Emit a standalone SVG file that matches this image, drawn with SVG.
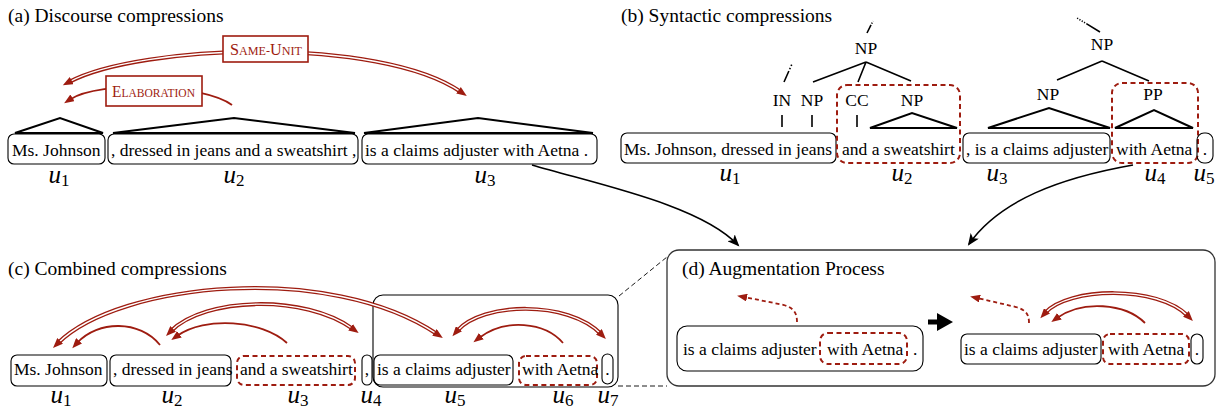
<svg xmlns="http://www.w3.org/2000/svg" width="1222" height="410" viewBox="0 0 1222 410">
<defs>
<style>
text{font-family:"Liberation Serif","Times New Roman",serif;fill:#000}
.t{font-size:17.5px}
.ttl{font-size:19.5px}
.u{font-size:25px;font-style:italic;text-anchor:middle}
.s{font-size:17px;font-style:normal}
.m{text-anchor:middle}
.box{fill:none;stroke:#000;stroke-width:1.1}
.rbox{fill:none;stroke:#9e1c10;stroke-width:2;stroke-dasharray:5 3.5}
.tree{fill:none;stroke:#000;stroke-width:2}
.ln{fill:none;stroke:#000;stroke-width:1.6}
.red1{fill:none;stroke:#9e1c10;stroke-width:1.8}
.rdash{fill:none;stroke:#9e1c10;stroke-width:1.8;stroke-dasharray:4 3}
.dblo{fill:none;stroke:#9e1c10;stroke-width:4}
.dbli{fill:none;stroke:#fff;stroke-width:1.4}
.mk{fill:none;stroke:none}
.lbl{fill:#fff;stroke:#9e1c10;stroke-width:1.6}
.rt{fill:#9e1c10}
.blk{fill:none;stroke:#000;stroke-width:1.6}
.frame{fill:none;stroke:#333;stroke-width:1.3}
.zoomln{fill:none;stroke:#000;stroke-width:0.9;stroke-dasharray:5 3}
</style>
<marker id="ra" markerUnits="userSpaceOnUse" markerWidth="11" markerHeight="8" viewBox="0 0 11 8" refX="3" refY="4" orient="auto-start-reverse"><path d="M0,0 L10,4 L0,8 z" fill="#9e1c10"/></marker>
<marker id="ba" markerUnits="userSpaceOnUse" markerWidth="13" markerHeight="10" viewBox="0 0 13 10" refX="10" refY="5" orient="auto"><path d="M0,0 L12,5 L0,10 L3,5 z" fill="#000"/></marker>
</defs>
<rect width="1222" height="410" fill="#fff"/>

<!-- Panel (a) -->
<g id="panel-a">
<text class="ttl" x="8" y="22">(a) Discourse compressions</text>
<path class="tree" d="M15,133 L60,118 L103,133 Z"/>
<path class="tree" d="M113,133 L234,118 L355,133 Z"/>
<path class="tree" d="M364,133 L478,118 L593,133 Z"/>
</g>
<g id="a-u1"><rect class="box" x="8" y="134" width="97" height="30" rx="6"/><text class="t" x="12" y="156">Ms. Johnson</text></g>
<g id="a-u2"><rect class="box" x="108" y="134" width="250" height="30" rx="6"/><text class="t" x="111" y="156">, dressed in jeans and a sweatshirt ,</text></g>
<g id="a-u3"><rect class="box" x="362" y="134" width="235" height="30" rx="6"/><text class="t" x="365" y="156">is a claims adjuster with Aetna .</text></g>
<g id="a-labels">
<text class="u" x="59" y="183">u<tspan class="s" dy="3">1</tspan></text>
<text class="u" x="234" y="183">u<tspan class="s" dy="3">2</tspan></text>
<text class="u" x="485" y="183">u<tspan class="s" dy="3">3</tspan></text>
</g>

<!-- Panel (b) -->
<g id="panel-b">
<text class="ttl" x="621" y="22">(b) Syntactic compressions</text>
<text class="t m" x="866" y="54">NP</text>
<text class="t m" x="782" y="106">IN</text>
<text class="t m" x="812" y="106">NP</text>
<text class="t m" x="857" y="106">CC</text>
<text class="t m" x="912" y="106">NP</text>
<path class="ln" d="M866,62 L813,82 M866,62 L858,82 M866,62 L911,81"/>
<path class="ln" d="M782,115 V127 M812,115 V127 M857,115 V127"/>
<path class="ln" d="M784,82 L792,64" stroke-dasharray="12 2 1.5 2 1.5 2"/>
<path class="ln" d="M867,33 L873,21" stroke-dasharray="9 1.5 1.2 1.5 1.2"/>
<path class="tree" d="M870,128 L912,113 L957,128 Z"/>
<text class="t m" x="1102" y="50">NP</text>
<path class="ln" d="M1100,32 L1077,18" stroke-dasharray="16 1.5 1.2 1.5 1.2 1.5 1.2 1.5 1.2"/>
<path class="ln" d="M1102,61 L1057,80 M1102,61 L1149,81"/>
<text class="t m" x="1048" y="100">NP</text>
<text class="t m" x="1153" y="100">PP</text>
<path class="tree" d="M988,128 L1049,108 L1110,128 Z"/>
<path class="tree" d="M1115,128 L1154,110 L1193,128 Z"/>
</g>
<g id="b-u1"><rect class="box" x="621" y="133" width="215" height="30" rx="6"/><text class="t" x="624" y="155">Ms. Johnson, dressed in jeans</text></g>
<g id="b-u2"><rect class="rbox" x="837" y="85" width="123" height="78" rx="10"/><text class="t" x="842" y="155">and a sweatshirt</text></g>
<g id="b-u3"><rect class="box" x="963" y="133" width="147" height="30" rx="6"/><text class="t" x="966" y="155">, is a claims adjuster</text></g>
<g id="b-u4"><rect class="rbox" x="1112" y="83" width="86" height="80" rx="10"/><text class="t" x="1116" y="155">with Aetna</text></g>
<g id="b-u5"><rect class="box" x="1197" y="133" width="16" height="30" rx="7"/><text class="t m" x="1205" y="155">.</text></g>
<g id="b-labels">
<text class="u" x="730" y="181">u<tspan class="s" dy="3">1</tspan></text>
<text class="u" x="902" y="181">u<tspan class="s" dy="3">2</tspan></text>
<text class="u" x="997" y="181">u<tspan class="s" dy="3">3</tspan></text>
<text class="u" x="1155" y="181">u<tspan class="s" dy="3">4</tspan></text>
<text class="u" x="1204" y="181">u<tspan class="s" dy="3">5</tspan></text>
</g>

<!-- Panel (c) -->
<g id="panel-c">
<text class="ttl" x="8" y="275">(c) Combined compressions</text>
<rect class="box" x="373" y="295" width="245" height="92" rx="10"/>
</g>
<g id="c-u1"><rect class="box" x="11" y="355" width="96" height="31" rx="6"/><text class="t" x="14" y="375">Ms. Johnson</text></g>
<g id="c-u2"><rect class="box" x="110" y="355" width="121" height="31" rx="6"/><text class="t" x="113" y="375">, dressed in jeans</text></g>
<g id="c-u3"><rect class="rbox" x="237" y="356" width="118" height="29" rx="7"/><text class="t" x="240" y="375">and a sweatshirt</text></g>
<g id="c-u4"><rect class="box" x="362" y="355" width="10" height="30" rx="5"/><text class="t m" x="367" y="375">,</text></g>
<g id="c-u5"><rect class="box" x="374" y="355" width="139" height="30" rx="6"/><text class="t" x="377" y="375">is a claims adjuster</text></g>
<g id="c-u6"><rect class="rbox" x="519" y="356" width="78" height="29" rx="7"/><text class="t" x="522" y="375">with Aetna</text></g>
<g id="c-u7"><rect class="box" x="602" y="354" width="11" height="30" rx="5.5"/><text class="t m" x="607.5" y="375">.</text></g>
<g id="c-labels">
<text class="u" x="61" y="403">u<tspan class="s" dy="3">1</tspan></text>
<text class="u" x="172" y="403">u<tspan class="s" dy="3">2</tspan></text>
<text class="u" x="298" y="403">u<tspan class="s" dy="3">3</tspan></text>
<text class="u" x="371" y="403">u<tspan class="s" dy="3">4</tspan></text>
<text class="u" x="455" y="403">u<tspan class="s" dy="3">5</tspan></text>
<text class="u" x="563" y="403">u<tspan class="s" dy="3">6</tspan></text>
<text class="u" x="608" y="403">u<tspan class="s" dy="3">7</tspan></text>
</g>

<!-- Panel (d) -->
<g id="panel-d">
<rect class="frame" x="667" y="250" width="548" height="136" rx="12"/>
<text class="ttl" x="682" y="275">(d) Augmentation Process</text>
<path d="M928,319.5 H937 V313 L953,322 L937,331 V324.5 H928 Z" fill="#000"/>
</g>
<g id="d-before"><rect class="box" x="677" y="326" width="246" height="45" rx="10"/><rect class="rbox" x="820" y="333" width="87" height="31" rx="8"/><text class="t" x="683" y="355">is a claims adjuster</text><text class="t" x="827" y="355">with Aetna</text><text class="t" x="913" y="355">.</text></g>
<g id="d-after-1"><rect class="box" x="961" y="334" width="140" height="30" rx="6"/><text class="t" x="964" y="355">is a claims adjuster</text></g>
<g id="d-after-2"><rect class="rbox" x="1103" y="334" width="86" height="30" rx="7"/><text class="t" x="1108" y="355">with Aetna</text></g>
<g id="d-after-3"><rect class="box" x="1191" y="334" width="12" height="30" rx="6"/><text class="t m" x="1197" y="355">.</text></g>

<!-- Connectors -->
<g id="connectors">
<!-- (a) Same-Unit double arc -->
<path class="dblo" d="M69,82 C140,44 380,36 461,92"/>
<path class="dbli" d="M69,82 C140,44 380,36 461,92"/>
<path class="mk" d="M69,82 C140,44 380,36 461,92" marker-start="url(#ra)" marker-end="url(#ra)"/>
<!-- (a) Elaboration -->
<path class="red1" d="M232,105 C205,84 100,80 70,99.5" marker-end="url(#ra)"/>

<!-- (c) arcs -->
<path class="dblo" d="M58,343 C120,282 330,262 437,334"/>
<path class="dbli" d="M58,343 C120,282 330,262 437,334"/>
<path class="mk" d="M58,343 C120,282 330,262 437,334" marker-start="url(#ra)" marker-end="url(#ra)"/>
<path class="red1" d="M160,345 C140,320 98,320 77,343" marker-end="url(#ra)"/>
<path class="dblo" d="M171,331 C205,297 305,294 353,329"/>
<path class="dbli" d="M171,331 C205,297 305,294 353,329"/>
<path class="mk" d="M171,331 C205,297 305,294 353,329" marker-start="url(#ra)" marker-end="url(#ra)"/>
<path class="red1" d="M287,343 C262,320 205,316 177,336" marker-end="url(#ra)"/>
<path class="dblo" d="M457,331 C482,302 568,300 601,334"/>
<path class="dbli" d="M457,331 C482,302 568,300 601,334"/>
<path class="mk" d="M457,331 C482,302 568,300 601,334" marker-start="url(#ra)" marker-end="url(#ra)"/>
<path class="red1" d="M563,343 C545,322 505,318 479,338" marker-end="url(#ra)"/>

<!-- (d) arcs -->
<path class="rdash" d="M797,322 C797,312 793,308 784,305 L744,297" marker-end="url(#ra)"/>
<path class="rdash" d="M1029,323 C1029,313 1025,310 1016,307 L977,298" marker-end="url(#ra)"/>
<path class="dblo" d="M1045,313 C1068,287 1158,285 1188,316"/>
<path class="dbli" d="M1045,313 C1068,287 1158,285 1188,316"/>
<path class="mk" d="M1045,313 C1068,287 1158,285 1188,316" marker-start="url(#ra)" marker-end="url(#ra)"/>
<path class="red1" d="M1145,323 C1125,303 1082,300 1057,318" marker-end="url(#ra)"/>

<!-- panel links -->
<path class="blk" d="M532,165 C600,185 700,205 738,245" marker-end="url(#ba)"/>
<path class="blk" d="M1133,165 C1060,178 1000,200 969,244" marker-end="url(#ba)"/>
<path class="zoomln" d="M619,296 L667,257"/>
<path class="zoomln" d="M618,386 L667,386"/>
</g>

<!-- relation labels -->
<g id="lbl-same-unit">
<rect class="lbl" x="223" y="36" width="85" height="26"/>
<text class="rt" x="230" y="55" textLength="72" lengthAdjust="spacingAndGlyphs"><tspan font-size="16">S</tspan><tspan font-size="12">AME-</tspan><tspan font-size="16">U</tspan><tspan font-size="12">NIT</tspan></text>
</g>
<g id="lbl-elaboration">
<rect class="lbl" x="106" y="76" width="96" height="30"/>
<text class="rt" x="112" y="97" textLength="83" lengthAdjust="spacingAndGlyphs"><tspan font-size="16">E</tspan><tspan font-size="12">LABORATION</tspan></text>
</g>
</svg>
